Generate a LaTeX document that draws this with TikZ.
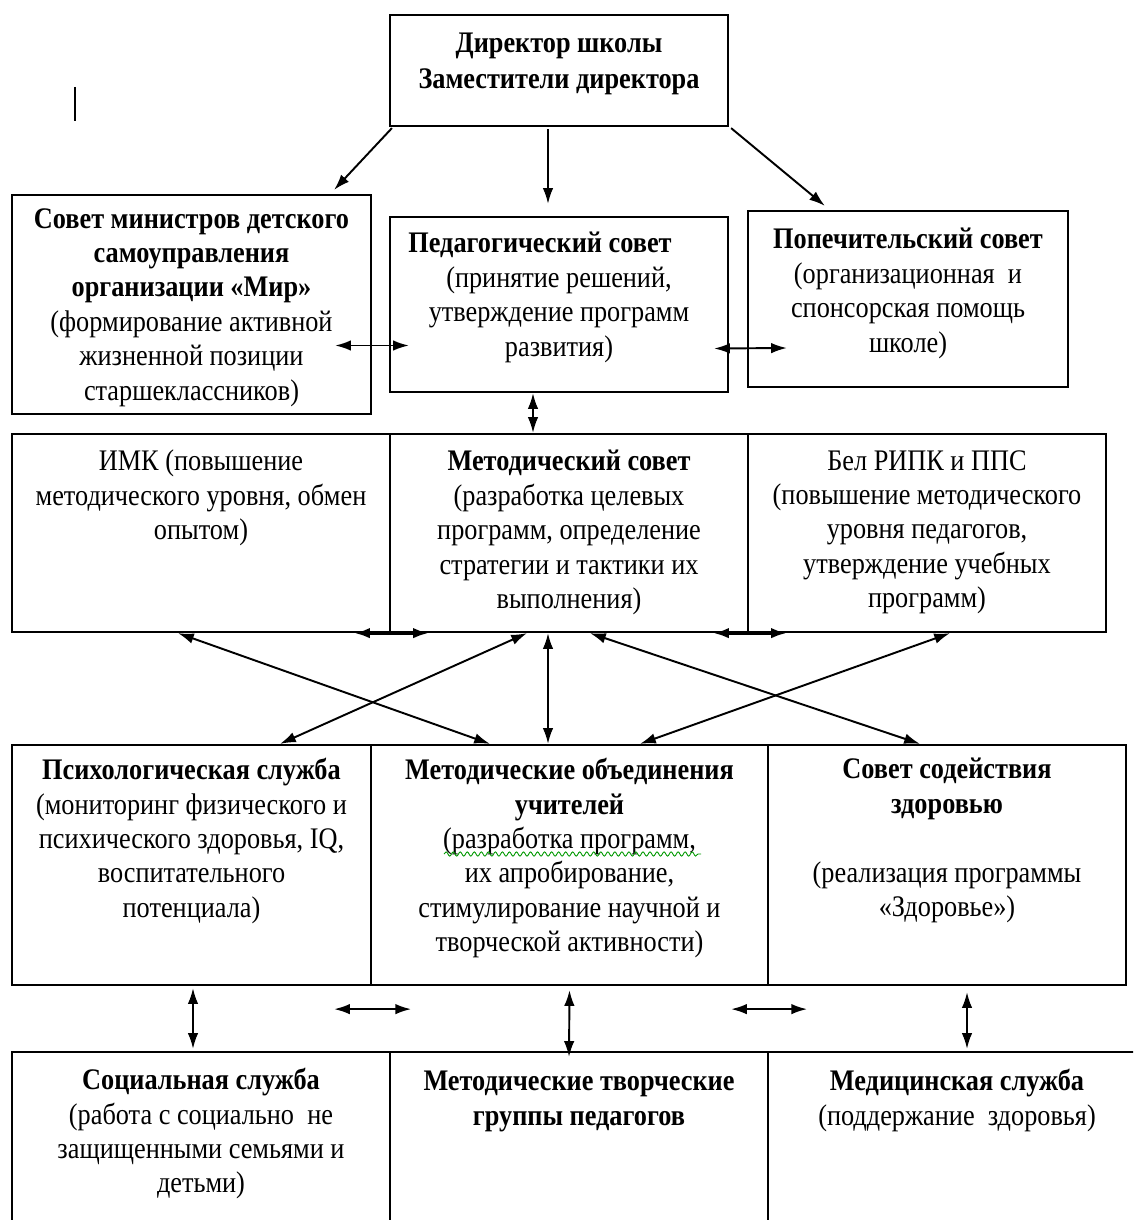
\documentclass[tikz,border=0pt]{standalone}
\usepackage{fontspec}
\setmainfont{Liberation Serif}[FakeStretch=0.88]
\usetikzlibrary{arrows.meta,calc,decorations.pathmorphing}
\newcommand{\fs}{\fontsize{17}{19.6}\selectfont}
\tikzset{
  box/.style={draw, line width=1.3pt, inner sep=0pt},
  txt/.style={align=center, inner sep=0pt, anchor=north, font=\fs},
  link/.style={line width=1.1pt, {Latex[length=9pt,width=6pt]}-{Latex[length=9pt,width=6pt]}},
  down/.style={line width=1.1pt, -{Latex[length=9pt,width=6pt]}},
}
\begin{document}
\begin{tikzpicture}[x=0.02cm, y=-0.02cm]
\clip (0,0) rectangle (1133,1220);
\fill[white] (0,0) rectangle (1133,1220);
% boxes
\node[box, minimum width=6.76cm, minimum height=2.22cm] (dir) at (559,70.5) {};
\node[box, minimum width=7.18cm, minimum height=4.38cm] (mir) at (191.5,304.5) {};
\node[box, minimum width=6.76cm, minimum height=3.5cm] (ped) at (559,304.5) {};
\node[box, minimum width=6.4cm, minimum height=3.52cm] (pop) at (908,299) {};
\node[box, minimum width=7.56cm, minimum height=3.96cm] (imk) at (201,533) {};
\node[box, minimum width=7.16cm, minimum height=3.96cm] (met) at (569,533) {};
\node[box, minimum width=7.16cm, minimum height=3.96cm] (bel) at (927,533) {};
\node[box, minimum width=7.18cm, minimum height=4.8cm] (psy) at (191.5,865) {};
\node[box, minimum width=7.94cm, minimum height=4.8cm] (mo) at (569.5,865) {};
\node[box, minimum width=7.16cm, minimum height=4.8cm] (zdr) at (947,865) {};
\node[box, minimum width=7.56cm, minimum height=3.96cm] (soc) at (201,1151) {};
\node[box, minimum width=7.56cm, minimum height=3.96cm] (mtg) at (579,1151) {};
\node[box, minimum width=7.56cm, minimum height=3.96cm] (med) at (957,1151) {};
% texts
\node[txt] (dir-t) at ($(dir.north)+(0,19)$) {\textbf{Директор школы}\\[1pt] \textbf{Заместители директора}};
\node[txt] (mir-t) at ($(mir.north)+(0,14)$) {\textbf{Совет министров детского}\\ \textbf{самоуправления}\\ \textbf{организации «Мир»}\\ (формирование активной\\ жизненной позиции\\ старшеклассников)};
\node[txt] (ped-t) at ($(ped.north)+(0,16)$) {\textbf{Педагогический совет}\hspace*{0.76cm}\\ (принятие решений,\\ утверждение программ\\ развития)};
\node[txt] (pop-t) at ($(pop.north)+(0,18)$) {\textbf{Попечительский совет}\\ (организационная \ и\\ спонсорская помощь\\ школе)};
\node[txt] (imk-t) at ($(imk.north)+(0,17)$) {ИМК (повышение\\ методического уровня, обмен\\ опытом)};
\node[txt] (met-t) at ($(met.north)+(0,17)$) {\textbf{Методический совет}\\ (разработка целевых\\ программ, определение\\ стратегии и тактики их\\ выполнения)};
\node[txt] (bel-t) at ($(bel.north)+(0,17)$) {Бел РИПК и ППС\\ (повышение методического\\ уровня педагогов,\\ утверждение учебных\\ программ)};
\node[txt] (psy-t) at ($(psy.north)+(0,14)$) {\textbf{Психологическая служба}\\ (мониторинг физического и\\ психического здоровья, IQ,\\ воспитательного\\ потенциала)};
\node[txt] (mo-t) at ($(mo.north)+(0,14)$) {\textbf{Методические объединения}\\ \textbf{учителей}\\ (разработка программ,\\ их апробирование,\\ стимулирование научной и\\ творческой активности)};
\node[txt] (zdr-t) at ($(zdr.north)+(0,14)$) {\textbf{Совет содействия}\\ \textbf{здоровью}\\[19.6pt] (реализация программы\\ «Здоровье»)};
\node[txt] (soc-t) at ($(soc.north)+(0,17)$) {\textbf{Социальная служба}\\ (работа с социально \ не\\ защищенными семьями и\\ детьми)};
\node[txt] (mtg-t) at ($(mtg.north)+(0,20)$) {\textbf{Методические творческие}\\ \textbf{группы педагогов}};
\node[txt] (med-t) at ($(med.north)+(0,18)$) {\textbf{Медицинская служба}\\ (поддержание \ здоровья)};
% stray mark and spell-check underline
\draw[line width=1.6pt] (75,87) -- (75,121);
\draw[green!60!black, line width=0.5pt, decorate, decoration={snake, amplitude=1.2pt, segment length=4pt}] (444,854) -- (701,854);
% arrows
\draw[down] ($(dir.south west)+(3,1)$) -- ($(mir.north east)+(-38,-4)$);
\draw[down] ($(dir.south)+(-11,2)$) -- ($(ped.north)+(-11,-12)$);
\draw[down] ($(dir.south east)+(2,1)$) -- ($(pop.north west)+(78,-4)$);
\draw[link] ($(mir.east)+(-37,41)$) -- ($(ped.west)+(20,41)$);
\draw[link] ($(ped.east)+(-15,44)$) -- ($(pop.west)+(40,49)$);
\draw[link] ($(ped.south)+(-26,0)$) -- ($(met.north)+(-36,0)$);
\draw[link, line width=2pt] ($(imk.south east)+(-37,0)$) -- ($(met.south west)+(40,0)$);
\draw[link, line width=2pt] ($(met.south east)+(-36,0)$) -- ($(bel.south west)+(40,0)$);
\draw[link] ($(imk.south)+(-23,0)$) -- ($(mo.north)+(-79.5,0)$);
\draw[link] ($(met.south)+(-42,0)$) -- ($(psy.north)+(88.5,0)$);
\draw[link] ($(met.south)+(-21,0)$) -- ($(mo.north)+(-21.5,0)$);
\draw[link] ($(met.south)+(21,0)$) -- ($(zdr.north)+(-27,0)$);
\draw[link] ($(bel.south)+(23,0)$) -- ($(mo.north)+(70.5,0)$);
\draw[link] ($(psy.south)+(1.5,2)$) -- ($(soc.north)+(-8,-2)$);
\draw[link] ($(psy.south east)+(-38,23)$) -- ($(psy.south east)+(39,23)$);
\draw[link] ($(mo.south)+(0,4)$) -- ($(mtg.north)+(-10,6)$);
\draw[link] ($(mo.south east)+(-38,23)$) -- ($(mo.south east)+(38,23)$);
\draw[link] ($(zdr.south)+(20,6)$) -- ($(med.north)+(10,-2)$);
\end{tikzpicture}
\end{document}
